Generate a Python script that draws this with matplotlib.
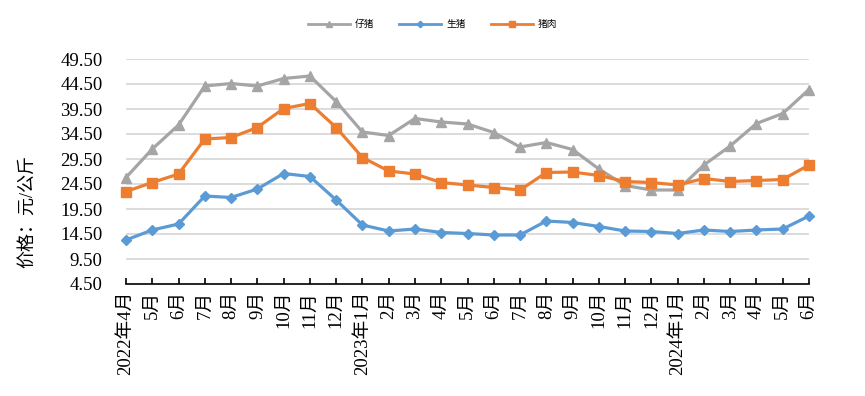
import matplotlib.pyplot as plt
import numpy as np

plt.rcParams['font.family'] = ['Liberation Serif', 'Noto Sans CJK SC', 'DejaVu Sans']

months = ['2022年4月', '5月', '6月', '7月', '8月', '9月', '10月', '11月', '12月',
          '2023年1月', '2月', '3月', '4月', '5月', '6月', '7月', '8月', '9月',
          '10月', '11月', '12月', '2024年1月', '2月', '3月', '4月', '5月', '6月']

piglet = [25.8, 31.5, 36.3, 44.1, 44.6, 44.1, 45.6, 46.1, 41.0,
          34.9, 34.2, 37.6, 36.9, 36.5, 34.8, 31.9, 32.8, 31.4,
          27.5, 24.2, 23.3, 23.3, 28.3, 32.1, 36.6, 38.6, 43.4]
hog = [13.3, 15.3, 16.5, 22.1, 21.8, 23.5, 26.6, 26.0, 21.3,
       16.3, 15.1, 15.5, 14.8, 14.6, 14.3, 14.3, 17.1, 16.8,
       16.0, 15.1, 15.0, 14.6, 15.3, 15.0, 15.3, 15.5, 18.1]
pork = [23.0, 24.8, 26.5, 33.5, 33.8, 35.8, 39.6, 40.6, 35.8,
        29.8, 27.1, 26.5, 24.8, 24.3, 23.8, 23.3, 26.8, 26.9,
        26.2, 25.0, 24.8, 24.3, 25.6, 25.0, 25.2, 25.4, 28.3]

yticks = [4.5, 9.5, 14.5, 19.5, 24.5, 29.5, 34.5, 39.5, 44.5, 49.5]

fig = plt.figure(figsize=(8.65, 3.96), dpi=100)
ax = fig.add_axes([126 / 865, 112 / 396, 683 / 865, 225 / 396])

x = np.arange(len(months))
ax.plot(x, piglet, color='#a5a5a5', lw=2.3, marker='^', ms=7.5, label='仔猪', clip_on=False, zorder=3)
ax.plot(x, hog, color='#5b9bd5', lw=2.3, marker='D', ms=5.5, label='生猪', clip_on=False, zorder=4)
ax.plot(x, pork, color='#ed7d31', lw=2.3, marker='s', ms=7.5, label='猪肉', clip_on=False, zorder=5)

ax.set_xlim(0, len(months) - 1)
ax.set_ylim(4.5, 49.5)
ax.set_yticks(yticks)
ax.set_yticklabels(['%.2f' % v for v in yticks], fontsize=13.5)
ax.set_xticks(x)
ax.set_xticklabels(months, rotation=90, fontsize=13.5, va='top')
ax.tick_params(axis='y', length=0, pad=17)
ax.tick_params(axis='x', direction='in', length=4, width=1.2, pad=5)

for v in yticks[1:]:
    ax.axhline(v, color='#d9d9d9', lw=1.3, zorder=1)

for s in ['top', 'right', 'left']:
    ax.spines[s].set_visible(False)
ax.spines['bottom'].set_linewidth(1.2)
ax.spines['bottom'].set_zorder(2)

fig.text(28 / 865, 1 - 211 / 396, '价格：元/公斤', rotation=90, ha='center', va='center', fontsize=13)

leg = fig.legend(loc='center', bbox_to_anchor=(0.5, 1 - 24 / 396), ncol=3, frameon=False,
                 prop={'family': ['Noto Sans CJK SC'], 'size': 7}, handlelength=4.3,
                 columnspacing=2.6, handletextpad=0.5, markerscale=0.6)
for line in leg.get_lines():
    line.set_linewidth(2)

fig.savefig('out.png', dpi=100)
